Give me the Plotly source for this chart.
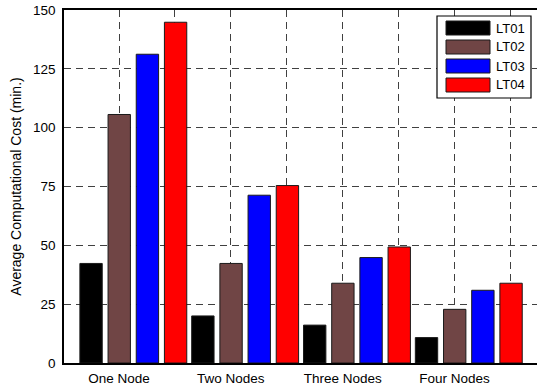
import plotly.graph_objects as go

# 資料
categories = ['One Node', 'Two Nodes', 'Three Nodes', 'Four Nodes']
series_names = ['LT01', 'LT02', 'LT03', 'LT04']
lt01 = [42.3, 20.0, 16.1, 10.8]
lt02 = [105.6, 42.3, 33.9, 22.8]
lt03 = [131.2, 71.3, 44.8, 30.9]
lt04 = [144.8, 75.4, 49.3, 33.9]
y_ticks = [0, 25, 50, 75, 100, 125, 150]

colors = ['#000000', '#704545', '#0000ff', '#ff0000']
offsets = [-0.35, -0.098, 0.154, 0.406]

x_pos = list(range(1, len(categories) + 1))

# 繪圖區在頁面上的位置 (px)
PLOT_L, PLOT_T, PLOT_R, PLOT_B = 64, 10, 537, 363
PW = PLOT_R - PLOT_L
PH = PLOT_B - PLOT_T


def px_x(px):
    return (px - PLOT_L) / PW


def px_y(py):
    return (PLOT_B - py) / PH


fig = go.Figure()

for name, vals, color, off in zip(series_names, [lt01, lt02, lt03, lt04], colors, offsets):
    fig.add_trace(go.Bar(
        x=x_pos,
        y=vals,
        name=name,
        offset=off,
        width=0.2,
        marker=dict(color=color, line=dict(color='#1a1a1a', width=1)),
        showlegend=False,
    ))

# 圖例（仿 MATLAB 的長方形色塊）
shapes = [dict(type='rect', xref='paper', yref='paper',
               x0=px_x(437), x1=px_x(531), y0=px_y(98), y1=px_y(16),
               line=dict(color='black', width=1.2), fillcolor='white', layer='above')]
annotations = []
for i, (name, color) in enumerate(zip(series_names, colors)):
    top = 21 + i * 19
    shapes.append(dict(type='rect', xref='paper', yref='paper',
                       x0=px_x(446), x1=px_x(490), y0=px_y(top + 14), y1=px_y(top),
                       line=dict(color='#1a1a1a', width=1), fillcolor=color, layer='above'))
    annotations.append(dict(text=name, xref='paper', yref='paper',
                            x=px_x(494), y=px_y(top + 7), xanchor='left', yanchor='middle',
                            showarrow=False, font=dict(size=13)))

font_name = 'Liberation Sans, Arial, sans-serif'

fig.update_layout(
    width=537,
    height=386,
    margin=dict(l=PLOT_L, r=0, t=PLOT_T, b=386 - PLOT_B),
    plot_bgcolor='white',
    paper_bgcolor='white',
    barmode='overlay',
    font=dict(family=font_name, size=13, color='black'),
    showlegend=False,
    shapes=shapes,
    annotations=annotations,
    xaxis=dict(
        range=[0.508, 4.738],
        tickvals=x_pos,
        ticktext=categories,
        showgrid=True,
        gridcolor='#404040',
        griddash='7px,5px',
        gridwidth=1,
        minor=dict(dtick=0.5, tick0=0.5, showgrid=True, gridcolor='#404040',
                   griddash='7px,5px', gridwidth=1),
        showline=True, linecolor='black', linewidth=1.5, mirror=True,
        ticks='', ticklabelstandoff=2,
        tickfont=dict(size=13.5),
        zeroline=False,
    ),
    yaxis=dict(
        range=[0, 150],
        tickvals=y_ticks,
        showgrid=True,
        gridcolor='#404040',
        griddash='7px,5px',
        gridwidth=1,
        showline=True, linecolor='black', linewidth=1.5,
        ticks='', ticklabelstandoff=4,
        ticklabeloverflow='allow',
        tickfont=dict(size=13.5),
        zeroline=False,
        title=dict(text='Average Computational Cost (min.)', font=dict(size=14), standoff=8),
    ),
)

# 去掉 body 預設 8px 邊距，讓圖貼齊視窗；不顯示工具列
fig.write_html('out.html', config={'displayModeBar': False},
               post_script="document.body.style.margin='0';")
